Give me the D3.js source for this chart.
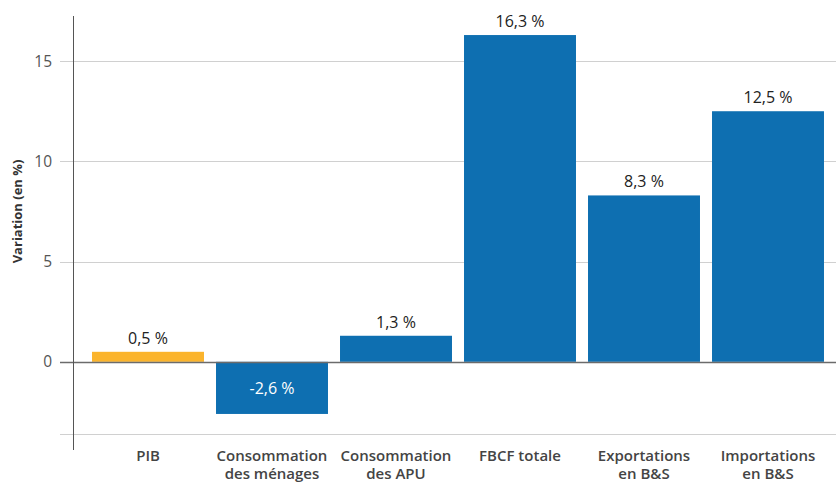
<!DOCTYPE html>
<html>
<head>
<meta charset="utf-8">
<script src="https://cdn.jsdelivr.net/npm/d3@7"></script>
<style>
  body { margin: 0; background: #fff; }
  svg { display: block; font-family: "Open Sans", "Noto Sans", sans-serif; }
</style>
</head>
<body>
<div id="chart"></div>
<script>
// chart data
const categories = ["PIB", "Consommation des ménages", "Consommation des APU", "FBCF totale", "Exportations en B&S", "Importations en B&S"]
const categoryLines = [["PIB"], ["Consommation", "des ménages"], ["Consommation", "des APU"], ["FBCF totale"], ["Exportations", "en B&S"], ["Importations", "en B&S"]]
const values = [0.5, -2.6, 1.3, 16.3, 8.3, 12.5]
const yTicks = [0, 5, 10, 15]
const yTitle = "Variation (en %)"

const width = 836
const height = 483

const svg = d3.select("#chart")
	.append("svg")
	.attr("width", width)
	.attr("height", height)

const x = d3.scaleBand()
	.domain(categories)
	.range([86, 830])
	.paddingInner(0.097)
	.paddingOuter(0.0485)

const y = d3.scaleLinear()
	.domain([-3.6, 17.25])
	.range([434, 16])

// gridlines
svg.append("g")
	.selectAll("line")
	.data(yTicks.filter(d => d !== 0).concat([-3.6]))
	.enter()
	.append("line")
	.attr("x1", 60)
	.attr("x2", width)
	.attr("y1", d => Math.round(y(d)) + 0.5)
	.attr("y2", d => Math.round(y(d)) + 0.5)
	.style("stroke", "#d0d0d0")
	.style("stroke-width", 1)

// bars
svg.append("g")
	.selectAll("rect")
	.data(values)
	.enter()
	.append("rect")
	.attr("x", (d, i) => x(categories[i]))
	.attr("width", x.bandwidth())
	.attr("y", d => y(Math.max(0, d)))
	.attr("height", d => Math.abs(y(d) - y(0)))
	.attr("fill", (d, i) => i === 0 ? "#fbb42c" : "#0e6fb1")

// zero line
svg.append("line")
	.attr("x1", 60)
	.attr("x2", width)
	.attr("y1", Math.round(y(0)) + 0.5)
	.attr("y2", Math.round(y(0)) + 0.5)
	.style("stroke", "#6b6b6b")
	.style("stroke-width", 1.3)

// y axis line
svg.append("line")
	.attr("x1", 73.5)
	.attr("x2", 73.5)
	.attr("y1", 16)
	.attr("y2", 450)
	.style("stroke", "#555")
	.style("stroke-width", 1)

// y tick labels
svg.append("g")
	.selectAll("text")
	.data(yTicks)
	.enter()
	.append("text")
	.attr("x", 52)
	.attr("y", d => y(d))
	.attr("dy", "0.35em")
	.attr("text-anchor", "end")
	.style("font-size", "15.5px")
	.style("fill", "#555")
	.text(d => d)

// y title
svg.append("text")
	.attr("transform", `translate(22, ${y(7.5)}) rotate(-90)`)
	.attr("text-anchor", "middle")
	.style("font-size", "13px")
	.style("font-weight", "bold")
	.style("fill", "#333")
	.text(yTitle)

// value labels
const fmt = v => String(v.toFixed(1)).replace(".", ",") + " %"
svg.append("g")
	.selectAll("text")
	.data(values)
	.enter()
	.append("text")
	.attr("x", (d, i) => x(categories[i]) + x.bandwidth() / 2)
	.attr("y", d => d >= 0 ? y(d) - 8 : (y(0) + y(d)) / 2 + 6)
	.attr("text-anchor", "middle")
	.style("font-size", "16px")
	.style("fill", d => d >= 0 ? "#222" : "#fff")
	.text(fmt)

// category labels, one text per line
const catGroups = svg.append("g")
	.selectAll("g")
	.data(categoryLines)
	.enter()
	.append("g")
	.attr("transform", (d, i) => `translate(${x(categories[i]) + x.bandwidth() / 2}, 461)`)

catGroups.selectAll("text")
	.data(d => d)
	.enter()
	.append("text")
	.attr("y", (d, i) => i * 18)
	.attr("text-anchor", "middle")
	.style("font-size", "15px")
	.style("font-weight", "600")
	.style("fill", "#444")
	.text(d => d)
</script>
</body>
</html>
